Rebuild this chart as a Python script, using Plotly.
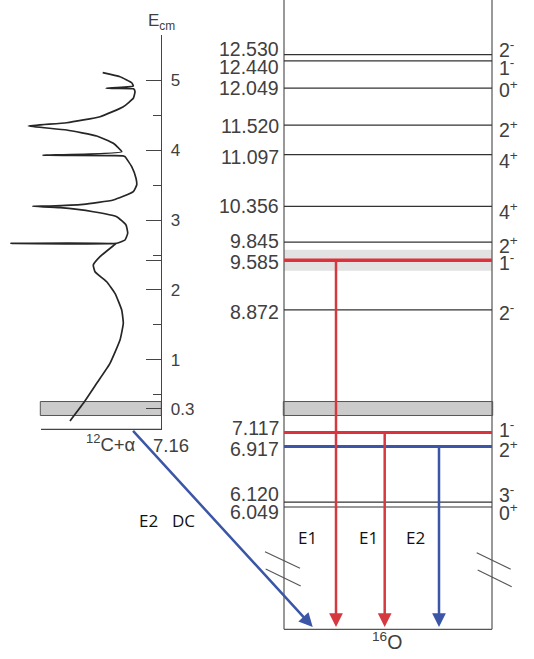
import plotly.graph_objects as go

# ---------------- data ----------------
level_energy = [12.530, 12.440, 12.049, 11.520, 11.097, 10.356, 9.845, 9.585, 8.872,
                7.117, 6.917, 6.120, 6.049]
level_jpi = ["2-", "1-", "0+", "2+", "4+", "4+", "2+", "1-", "2-", "1-", "2+", "3-", "0+"]

transition_from = [9.585, 7.117, 6.917]
transition_type = ["E1", "E1", "E2"]
direct_capture_label = ["E2", "DC"]

alpha_threshold = 7.16          # 12C+alpha threshold in 16O (MeV)
gamow_window = [0.2, 0.4]       # Ecm band around 0.3 MeV
broad_level_halfwidth = 0.15    # shading around the 9.585 MeV level

ecm_tickvals = [0.3, 1, 2, 3, 4, 5]
ecm_minor_ticks = [0.5, 1.5, 2.5, 3.5, 4.5]

# cross-section-like curve (Ecm in MeV, arbitrary units to the left)
curve_ecm = [5.112, 5.054, 4.968, 4.921, 4.888, 4.881, 4.840, 4.745, 4.625, 4.481, 4.395,
             4.348, 4.291, 4.205, 4.100, 3.980, 3.928, 3.921, 3.908, 3.765, 3.599, 3.503,
             3.407, 3.288, 3.226, 3.202, 3.198, 3.178, 3.120, 3.049, 2.930, 2.811, 2.715,
             2.668, 2.668, 2.663, 2.633, 2.476, 2.357, 2.261, 2.117, 1.951, 1.712, 1.521,
             1.282, 0.948, 0.662, 0.375, 0.122]
curve_val = [5.86, 4.13, 2.96, 2.80, 5.53, 2.78, 2.63, 2.80, 3.80, 6.13, 9.46,
             13.30, 9.46, 6.46, 4.80, 3.96, 11.86, 3.83, 3.63, 2.96, 2.53, 2.46,
             2.80, 4.80, 7.80, 11.13, 12.86, 10.13, 6.80, 4.46, 3.53, 3.36, 3.63,
             4.46, 15.03, 4.53, 4.80, 6.13, 6.80, 6.63, 5.46, 4.63, 3.96, 3.80,
             4.13, 5.13, 6.46, 7.80, 9.13]

# ---------------- layout constants ----------------
W, H = 534, 659
PXM = 69.8  # pixels per MeV


def ex_at(py):
    return 6.049 + (507 - py) / PXM


def px(x):
    return x / W


Y_RANGE = [ex_at(H), ex_at(0)]
GROUND_DRAW = ex_at(629.3)   # broken-axis position of the 16O ground state
ARROW_TIP = ex_at(627)
BOX_L, BOX_R = px(284), px(492)
AXIS_X = 161.3
LEFT_W = AXIS_X / W
ECM_TOP = (429.5 - 35) / PXM

RED = "#dc323c"
RED_ARROW = "#d5383f"
BLUE = "#3b56a6"
GREY_TXT = "#404040"
LINE = "#444444"
FONT = "Liberation Sans, Arial, sans-serif"
FONT2 = "Open Sans, sans-serif"

fig = go.Figure()

# left panel curve (x2/y2)
fig.add_trace(go.Scatter(x=curve_val, y=curve_ecm, mode="lines",
                         line=dict(color="#262626", width=1.7, shape="spline", smoothing=0.4),
                         xaxis="x2", yaxis="y2", hoverinfo="skip", showlegend=False))

shapes = []
# shading of the broad 9.585 level
shapes.append(dict(type="rect", xref="x", yref="y", x0=BOX_L, x1=BOX_R,
                   y0=9.585 - broad_level_halfwidth, y1=9.585 + broad_level_halfwidth,
                   fillcolor="#e2e2e2", line=dict(width=0), layer="below"))
# gamow window bands
for (xa, xb) in [(px(283.3), px(492.7)), (px(40.3), px(AXIS_X))]:
    shapes.append(dict(type="rect", xref="x", yref="y", x0=xa, x1=xb,
                       y0=alpha_threshold + gamow_window[0], y1=alpha_threshold + gamow_window[1],
                       fillcolor="#cbcbcb", line=dict(color="#555555", width=1), layer="below"))
# threshold baseline on the left
shapes.append(dict(type="line", xref="x", yref="y", x0=px(41), x1=px(AXIS_X),
                   y0=alpha_threshold, y1=alpha_threshold, line=dict(color=LINE, width=1.2)))
# box
for xb in (BOX_L, BOX_R):
    shapes.append(dict(type="line", xref="x", yref="y", x0=xb, x1=xb,
                       y0=GROUND_DRAW, y1=Y_RANGE[1], line=dict(color="#555555", width=1.2)))
shapes.append(dict(type="line", xref="x", yref="y", x0=BOX_L, x1=BOX_R,
                   y0=GROUND_DRAW, y1=GROUND_DRAW, line=dict(color="#555555", width=1.2)))
# levels
highlight = {9.585: (RED, 3.5), 7.117: (RED, 3), 6.917: (BLUE, 3)}
for e in level_energy:
    col, w = highlight.get(e, ("#333333", 1.2))
    shapes.append(dict(type="line", xref="x", yref="y", x0=BOX_L, x1=BOX_R,
                       y0=e, y1=e, line=dict(color=col, width=w)))
# axis break marks
for (x0, y0, x1, y1) in [(265, 551.7, 300, 568.3), (265.7, 569, 300.7, 586),
                         (476.7, 552.7, 510.7, 569.3), (477.7, 570, 511.7, 586.7)]:
    shapes.append(dict(type="line", xref="x", yref="y", x0=px(x0), x1=px(x1),
                       y0=ex_at(y0), y1=ex_at(y1), line=dict(color="#555555", width=1.1)))

ann = []
left_shift = {12.530: 5.5, 12.440: -6, 12.049: 0, 11.520: -1, 11.097: -2, 10.356: 0,
              9.845: 1, 9.585: -2, 8.872: -2, 7.117: 4, 6.917: -3, 6.120: 8, 6.049: -5}
right_shift = {12.530: 5.7, 12.440: -6, 12.049: -1, 11.520: -4, 11.097: -5, 10.356: -5,
               9.845: -3, 9.585: -2, 8.872: -2, 7.117: 3, 6.917: -3, 6.120: 8, 6.049: -5}
for e, jp in zip(level_energy, level_jpi):
    ann.append(dict(x=px(280.5), y=e, xref="x", yref="y", text=f"{e:.3f}", showarrow=False,
                    xanchor="right", yanchor="middle", yshift=left_shift[e],
                    font=dict(family=FONT, size=19.5, color=GREY_TXT)))
    ann.append(dict(x=px(497), y=e, xref="x", yref="y",
                    text=f"{jp[0]}<sup>{jp[1:]}</sup>", showarrow=False,
                    xanchor="left", yanchor="middle", yshift=right_shift[e],
                    font=dict(family=FONT, size=19.5, color=GREY_TXT)))

# gamma transitions
trans_x = [px(336), px(384.7), px(439)]
trans_lab_x = [px(307), px(368), px(415)]
for e, t, xx, lx in zip(transition_from, transition_type, trans_x, trans_lab_x):
    col = BLUE if t == "E2" else RED_ARROW
    ann.append(dict(x=xx, y=ARROW_TIP, ax=xx, ay=e, xref="x", yref="y", axref="x", ayref="y",
                    text="", showarrow=True, arrowhead=2, arrowsize=1.1, arrowwidth=2.5,
                    arrowcolor=col, standoff=0, startstandoff=0))
    ann.append(dict(x=lx, y=ex_at(537), xref="x", yref="y", text=t, showarrow=False,
                    font=dict(family=FONT2, size=17, color="#111111")))
# direct capture arrow
ann.append(dict(x=px(312.7), y=ARROW_TIP, ax=px(131.7), ay=alpha_threshold, xref="x", yref="y",
                axref="x", ayref="y", text="", showarrow=True, arrowhead=2, arrowsize=1.1,
                arrowwidth=2.5, arrowcolor=BLUE, standoff=0, startstandoff=0))
for t, xx in zip(direct_capture_label, [px(148), px(183)]):
    ann.append(dict(x=xx, y=ex_at(520), xref="x", yref="y", text=t, showarrow=False,
                    font=dict(family=FONT2, size=17, color="#111111")))

# other labels
ann.append(dict(x=px(387), y=ex_at(641), xref="x", yref="y", text="<sup>16</sup>O",
                showarrow=False, font=dict(family=FONT, size=19.5, color=GREY_TXT)))
ann.append(dict(x=px(84), y=ex_at(443), xref="x", yref="y", text="<sup>12</sup>C+α",
                showarrow=False, xanchor="left", font=dict(family=FONT, size=18.5, color=GREY_TXT)))
ann.append(dict(x=px(151), y=ex_at(445), xref="x", yref="y", text=f"{alpha_threshold:.2f}",
                showarrow=False, xanchor="left", font=dict(family=FONT, size=18.5, color=GREY_TXT)))
ann.append(dict(x=px(146), y=ex_at(22), xref="x", yref="y", text="E<sub>cm</sub>",
                showarrow=False, xanchor="left", font=dict(family=FONT, size=17, color=GREY_TXT)))

res_ecm = round(9.585 - alpha_threshold, 3)
tickvals = ecm_tickvals + [res_ecm]
ticktext = [("0.3" if v == 0.3 else str(int(v))) for v in ecm_tickvals] + [""]

fig.update_layout(
    width=W, height=H, margin=dict(l=0, r=0, t=0, b=0),
    paper_bgcolor="white", plot_bgcolor="rgba(0,0,0,0)", showlegend=False,
    xaxis=dict(domain=[0, 1], range=[0, 1], visible=False, fixedrange=True),
    yaxis=dict(domain=[0, 1], range=Y_RANGE, visible=False, fixedrange=True),
    xaxis2=dict(domain=[0, LEFT_W], range=[AXIS_X / 10, 0], visible=False, anchor="y2"),
    yaxis2=dict(domain=[(H - 429.5) / H, (H - 35) / H], range=[0, ECM_TOP], anchor="x2",
                side="right", showline=True, linecolor=LINE, linewidth=1.2,
                ticks="inside", ticklen=15, tickwidth=1.1, tickcolor=LINE,
                tickvals=tickvals, ticktext=ticktext, showgrid=False, zeroline=False,
                ticklabelstandoff=5,
                tickfont=dict(family=FONT, size=17, color=GREY_TXT),
                minor=dict(tickvals=ecm_minor_ticks, ticks="inside", ticklen=8,
                           tickwidth=1.1, tickcolor=LINE, showgrid=False)),
    shapes=shapes, annotations=ann,
)

fig.write_html("out.html", config={"displayModeBar": False},
               post_script="document.body.style.margin='0';document.body.style.overflow='hidden';")
